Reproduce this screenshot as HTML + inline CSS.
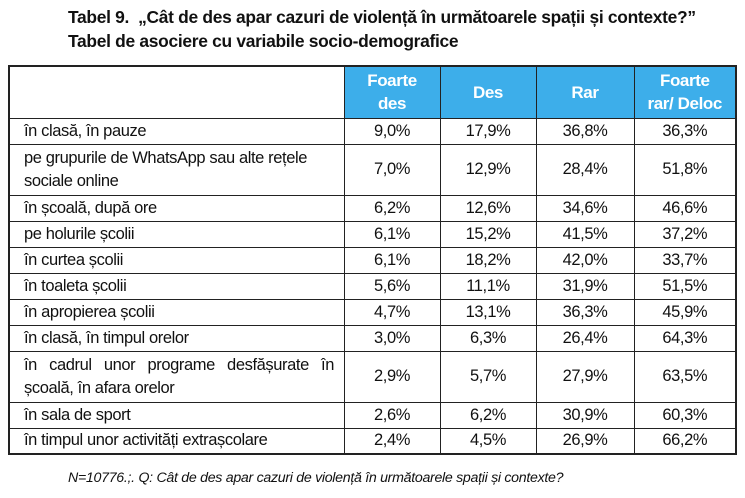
<!DOCTYPE html>
<html><head><meta charset="utf-8"><style>
body{margin:0;width:745px;height:498px;background:#fff;font-family:"Liberation Sans",sans-serif;color:#111;position:relative;overflow:hidden}
.t{position:absolute;left:68px;font-weight:bold;font-size:17.4px;letter-spacing:-0.3px;white-space:nowrap}
table{position:absolute;left:8px;top:65px;border-collapse:collapse;border:2px solid #222}
td{border:1.5px solid #222;font-size:16.5px;padding:0 6px 0 14px;letter-spacing:-0.4px;white-space:nowrap}
td.n{text-align:center;padding:0}
th{background:#3daeea;color:#fff;font-weight:bold;font-size:17px;border:1.5px solid #222;line-height:23px;letter-spacing:-0.4px}
tr{height:26px}
tr.d{height:51px}
.j{text-align:justify;text-align-last:justify;width:310px}
.f{position:absolute;left:68px;top:470px;font-style:italic;font-size:14.2px;letter-spacing:-0.3px;white-space:nowrap}
</style></head><body>
<div class="t" style="top:7px">Tabel 9.&nbsp; „Cât de des apar cazuri de violență în următoarele spații și contexte?”</div>
<div class="t" style="top:31px">Tabel de asociere cu variabile socio-demografice</div>
<table>
<colgroup><col style="width:335px"><col style="width:96px"><col style="width:96px"><col style="width:98px"><col style="width:102px"></colgroup>
<tr style="height:52px"><td style="background:#fff"></td><th>Foarte<br>des</th><th>Des</th><th>Rar</th><th>Foarte<br>rar/ Deloc</th></tr>
<tr><td>în clasă, în pauze</td><td class="n">9,0%</td><td class="n">17,9%</td><td class="n">36,8%</td><td class="n">36,3%</td></tr>
<tr class="d"><td style="line-height:23px">pe grupurile de WhatsApp sau alte rețele<br>sociale online</td><td class="n">7,0%</td><td class="n">12,9%</td><td class="n">28,4%</td><td class="n">51,8%</td></tr>
<tr><td>în școală, după ore</td><td class="n">6,2%</td><td class="n">12,6%</td><td class="n">34,6%</td><td class="n">46,6%</td></tr>
<tr><td>pe holurile școlii</td><td class="n">6,1%</td><td class="n">15,2%</td><td class="n">41,5%</td><td class="n">37,2%</td></tr>
<tr><td>în curtea școlii</td><td class="n">6,1%</td><td class="n">18,2%</td><td class="n">42,0%</td><td class="n">33,7%</td></tr>
<tr><td>în toaleta școlii</td><td class="n">5,6%</td><td class="n">11,1%</td><td class="n">31,9%</td><td class="n">51,5%</td></tr>
<tr><td>în apropierea școlii</td><td class="n">4,7%</td><td class="n">13,1%</td><td class="n">36,3%</td><td class="n">45,9%</td></tr>
<tr><td>în clasă, în timpul orelor</td><td class="n">3,0%</td><td class="n">6,3%</td><td class="n">26,4%</td><td class="n">64,3%</td></tr>
<tr class="d"><td style="line-height:23px"><div class="j">în cadrul unor programe desfășurate în</div>școală, în afara orelor</td><td class="n">2,9%</td><td class="n">5,7%</td><td class="n">27,9%</td><td class="n">63,5%</td></tr>
<tr><td>în sala de sport</td><td class="n">2,6%</td><td class="n">6,2%</td><td class="n">30,9%</td><td class="n">60,3%</td></tr>
<tr><td>în timpul unor activități extrașcolare</td><td class="n">2,4%</td><td class="n">4,5%</td><td class="n">26,9%</td><td class="n">66,2%</td></tr>
</table>
<div class="f">N=10776.;. Q: Cât de des apar cazuri de violență în următoarele spații și contexte?</div>
</body></html>
